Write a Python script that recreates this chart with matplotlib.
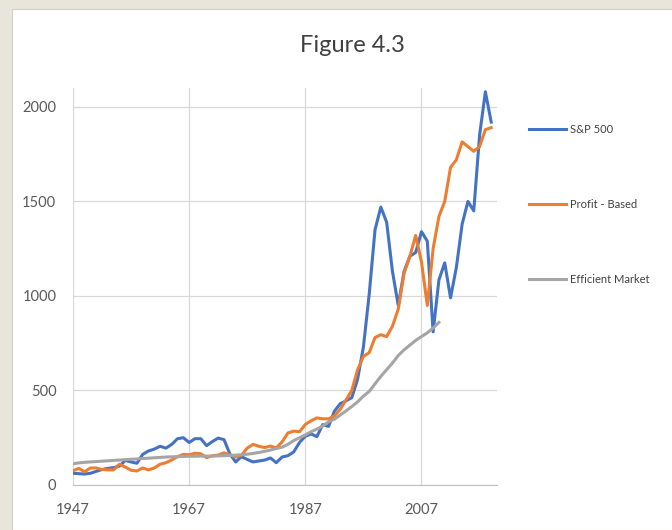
import matplotlib.pyplot as plt
from matplotlib.patches import Rectangle

# data (annual points)
years = list(range(1947, 2020))
sp500 = [62, 60, 58, 62, 72, 82, 88, 92, 100, 130,
         122, 115, 162, 180, 190, 205, 195, 215, 245, 250,
         225, 245, 245, 208, 230, 248, 240, 165, 122, 150,
         135, 122, 127, 132, 143, 118, 148, 155, 175, 225,
         258, 270, 256, 320, 310, 390, 430, 445, 462, 560,
         730, 1010, 1350, 1470, 1390, 1130, 950, 1130, 1210, 1230,
         1340, 1290, 810, 1085, 1175, 990, 1150, 1380, 1500, 1450,
         1850, 2080, 1920]
profit_based = [75, 88, 70, 90, 90, 82, 80, 80, 110, 95,
                78, 74, 90, 80, 90, 110, 118, 132, 150, 162,
                160, 168, 165, 145, 155, 158, 170, 160, 148, 158,
                195, 215, 205, 198, 206, 196, 228, 275, 285, 282,
                320, 340, 355, 350, 350, 365, 400, 450, 500, 610,
                680, 700, 780, 795, 785, 840, 930, 1120, 1210, 1320,
                1180, 950, 1250, 1420, 1500, 1680, 1720, 1815, 1790, 1765,
                1790, 1880, 1890]
eff_years = list(range(1947, 2011))
efficient_market = [112, 117, 120, 122, 124, 126, 128, 130, 132, 134,
                    136, 138, 140, 142, 144, 146, 148, 149, 150, 151,
                    152, 152, 153, 153, 153, 154, 155, 156, 158, 160,
                    163, 167, 172, 178, 185, 193, 200, 215, 235, 250,
                    265, 282, 296, 312, 335, 348, 370, 392, 415, 440,
                    470, 495, 535, 575, 610, 645, 685, 715, 740, 765,
                    785, 805, 830, 860]

x_ticks = [1947, 1967, 1987, 2007]
y_ticks = [0, 500, 1000, 1500, 2000]

plt.rcParams['font.family'] = ['Lato', 'DejaVu Sans']

fig = plt.figure(figsize=(6.72, 5.30), dpi=100, facecolor='#E8E5DA')
fig.add_artist(Rectangle((12/672, 0), 1, 1 - 9/530, transform=fig.transFigure,
                         facecolor='white', edgecolor='#D3CFC3', lw=0.8, zorder=0))

ax = fig.add_axes([73/672, 45/530, 424/672, 397/530])
ax.set_facecolor('none')

ax.plot(years, sp500, color='#4472C4', lw=2.2, label='S&P 500', solid_joinstyle='round')
ax.plot(years, profit_based, color='#ED7D31', lw=2.2, label='Profit - Based', solid_joinstyle='round')
ax.plot(eff_years, efficient_market, color='#A5A5A5', lw=2.2, label='Efficient Market', solid_joinstyle='round')

ax.set_xlim(1947, 2020)
ax.set_ylim(0, 2100)
ax.set_xticks(x_ticks)
ax.set_yticks(y_ticks)
ax.grid(True, color='#D9D9D9', lw=0.9)
ax.set_axisbelow(True)
for s in ['top', 'right', 'left']:
    ax.spines[s].set_visible(False)
ax.spines['bottom'].set_color('#BFBFBF')
ax.tick_params(axis='both', length=0, labelsize=10.5, labelcolor='#595959')
ax.tick_params(axis='x', pad=13)
ax.tick_params(axis='y', pad=12)

fig.text(352/672, 1 - 46/530, 'Figure 4.3', ha='center', va='center',
         fontsize=17, color='#404040')

ax.legend(loc='upper left', bbox_to_anchor=(529/672, 1 - 124/530),
          bbox_transform=fig.transFigure, frameon=False, fontsize=8,
          handlelength=3.3, handletextpad=0.4, labelspacing=5.75,
          borderpad=0, borderaxespad=0, labelcolor='#404040')

fig.savefig('out.png', dpi=100, facecolor=fig.get_facecolor())
